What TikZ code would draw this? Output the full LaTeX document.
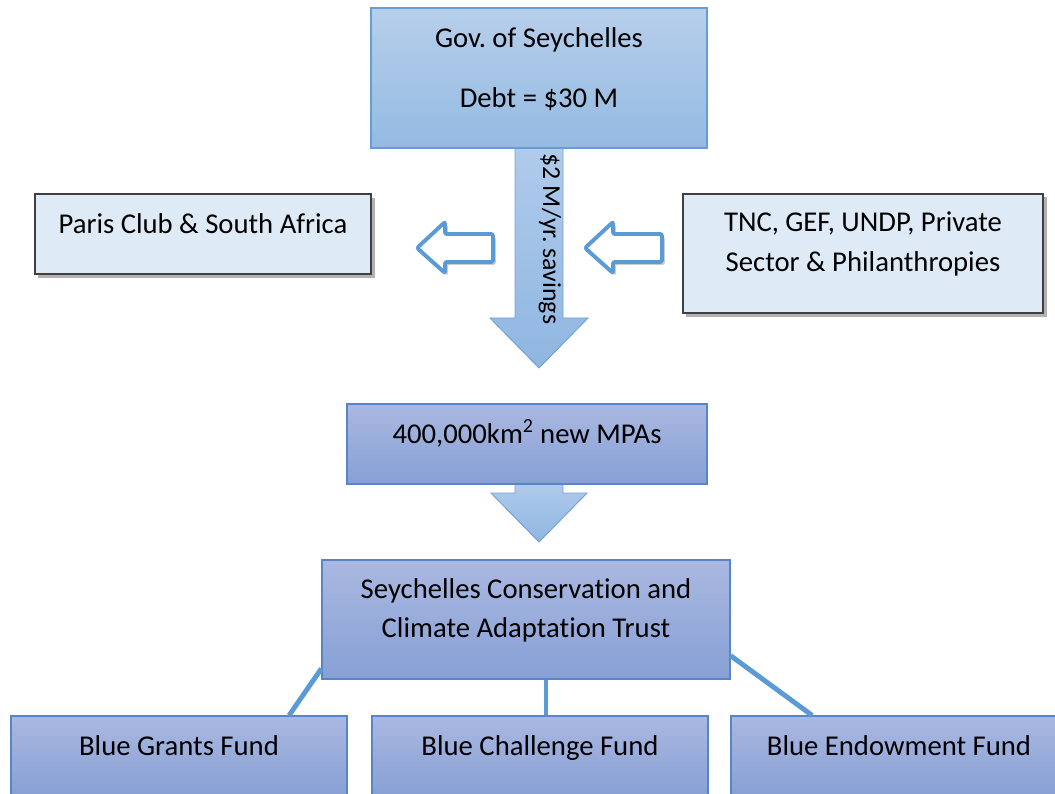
\documentclass[tikz,border=0pt]{standalone}
\usepackage{fontspec}
\setmainfont{Carlito}[Ligatures={NoCommon}]
\frenchspacing
\usetikzlibrary{shadows}

\definecolor{govtop}{RGB}{183,207,235}
\definecolor{govbot}{RGB}{148,186,226}
\definecolor{govline}{RGB}{101,158,215}
\definecolor{trusttop}{RGB}{170,184,225}
\definecolor{trustbot}{RGB}{135,160,213}
\definecolor{trustline}{RGB}{86,134,200}
\definecolor{donorfill}{RGB}{222,234,246}
\definecolor{donorline}{RGB}{64,64,64}
\definecolor{arrowline}{RGB}{91,155,213}
\definecolor{flowtop}{RGB}{176,203,235}
\definecolor{flowbot}{RGB}{143,182,225}
\definecolor{flowline}{RGB}{115,163,215}

\tikzset{
  txt/.style={align=center, yshift=7.5pt, font=\fontsize{20.4pt}{28.4pt}\selectfont},
  govbox/.style={draw=govline, line width=0.8pt, top color=govtop, bottom color=govbot, inner sep=0pt},
  trustbox/.style={draw=trustline, line width=0.8pt, top color=trusttop, bottom color=trustbot, inner sep=0pt},
  donorbox/.style={draw=donorline, line width=0.9pt, fill=donorfill, inner sep=0pt,
    drop shadow={shadow xshift=2.5pt, shadow yshift=-2.5pt, fill=black, opacity=.3}},
  hollow/.style={draw=arrowline, line width=2.8pt, fill=white, rounded corners=1.5pt,
    drop shadow={shadow xshift=2pt, shadow yshift=-2pt, fill=black, opacity=.2}},
  flow/.style={draw=flowline, line width=0.7pt, top color=flowtop, bottom color=flowbot},
  link/.style={draw=arrowline, line width=3.5pt}
}

\begin{document}
\begin{tikzpicture}[x=0.025cm, y=-0.025cm]
        \useasboundingbox (0,0) rectangle (1055,794);
        \clip (0,0) rectangle (1055,794);

        % flow arrows
        \draw[flow] (515,148) -- (563,148) -- (563,318) -- (588,318) -- (539,368) -- (490,318) -- (515,318) -- cycle;
        \draw[flow] (515,484) -- (563,484) -- (563,493) -- (587,493) -- (539,542) -- (491,493) -- (515,493) -- cycle;

        % boxes
        \node[govbox, minimum width=8.4cm, minimum height=3.5cm,
              label={[txt, yshift=-1pt]center:Gov. of Seychelles\\[14pt]Debt = \$30 M}] (gov) at (539,78) {};
        \node[donorbox, minimum width=8.4cm, minimum height=2cm,
              label={[txt]center:Paris Club \& South Africa}] (paris) at (203,234) {};
        \node[donorbox, minimum width=9cm, minimum height=2.975cm,
              label={[txt, yshift=-1pt]center:TNC, GEF, UNDP, Private\\Sector \& Philanthropies}] (tnc) at (863,253.5) {};
        \node[trustbox, minimum width=9cm, minimum height=2cm,
              label={[txt]center:400,000km\textsuperscript{2} new MPAs}] (mpa) at (527,444) {};
        \node[trustbox, minimum width=10.2cm, minimum height=2.975cm,
              label={[txt, yshift=-1pt]center:Seychelles Conservation and\\Climate Adaptation Trust}] (trust) at (526,619.5) {};
        \node[trustbox, minimum width=8.4cm, minimum height=2cm,
              label={[txt]center:Blue Grants Fund}] (grants) at (179,756) {};
        \node[trustbox, minimum width=8.4cm, minimum height=2cm,
              label={[txt, yshift=-2pt]center:Blue Challenge Fund}] (challenge) at (540,756) {};
        \node[trustbox, minimum width=8.4cm, minimum height=2cm,
              label={[txt]center:Blue Endowment Fund}] (endow) at (899,756) {};

        \node[font=\fontsize{18.4pt}{22pt}\selectfont, rotate=-90] (savings) at (550,239) {\$2 M/yr. savings};

        % side arrows
        \draw[hollow] (417,248) -- (445,222) -- (445,234) -- (493,234) -- (493,262) -- (445,262) -- (445,273) -- cycle;
        \draw[hollow] (585,248) -- (613,222) -- (613,234) -- (662,234) -- (662,262) -- (613,262) -- (613,273) -- cycle;

        % links to funds
        \draw[link] ([yshift=7.8pt]trust.south west) -- ([xshift=2.75cm]grants.north);
        \draw[link] ([xshift=0.5cm]trust.south) coordinate (mid) -- (mid |- challenge.north);
        \draw[link] ([yshift=17pt]trust.south east) -- ([xshift=-2.17cm]endow.north);
\end{tikzpicture}
\end{document}
